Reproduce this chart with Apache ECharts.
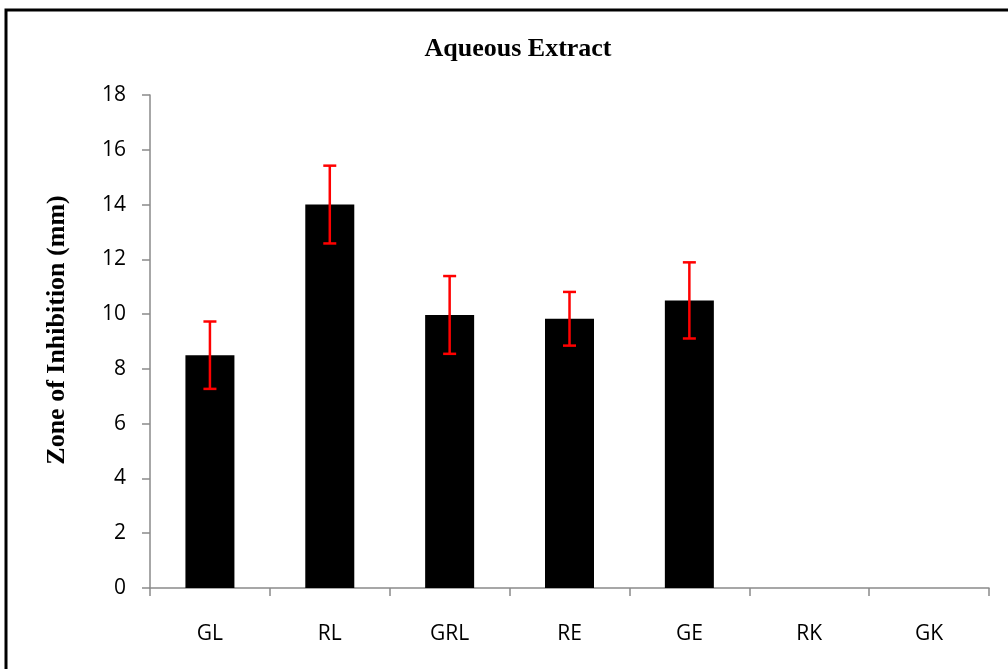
<!DOCTYPE html>
<html>
<head>
<meta charset="utf-8">
<script src="https://cdn.jsdelivr.net/npm/echarts@6/dist/echarts.min.js"></script>
<style>
html,body{margin:0;padding:0;background:#fff;}
#chart{width:1008px;height:669px;}
</style>
</head>
<body>
<div id="chart"></div>
<script>
var categories = ['GL', 'RL', 'GRL', 'RE', 'GE', 'RK', 'GK'];
var means = [8.5, 14.0, 9.97, 9.83, 10.5, 0, 0];
var errors = [1.23, 1.42, 1.42, 0.98, 1.39, null, null];
var yTicks = {min: 0, max: 18, interval: 2};
var titleText = 'Aqueous Extract';
var yTitle = 'Zone of Inhibition (mm)';

var chart = echarts.init(document.getElementById('chart'), null, {renderer: 'canvas'});

var errData = categories.map(function (c, i) {
  return [i, means[i], errors[i]];
}).filter(function (d) { return d[2] != null; });

var axisGray = '#8a8a8a';

var option = {
  animation: false,
  backgroundColor: '#fff',
  graphic: [{
    type: 'rect',
    shape: {x: 6, y: 10, width: 1020, height: 680},
    style: {fill: 'none', stroke: '#000', lineWidth: 3},
    silent: true
  }, {
    type: 'text',
    x: 57, y: 330,
    rotation: Math.PI / 2,
    silent: true,
    style: {
      text: yTitle,
      fontFamily: 'Liberation Serif', fontWeight: 'bold', fontSize: 26, fill: '#000',
      align: 'center', verticalAlign: 'middle'
    }
  }],
  title: {
    text: titleText,
    left: 513,
    textAlign: 'center',
    top: 31,
    textStyle: {fontFamily: 'Liberation Serif', fontWeight: 'bold', fontSize: 26, color: '#000'}
  },
  grid: {left: 150, right: 19, top: 95, bottom: 81, containLabel: false},
  xAxis: {
    type: 'category',
    data: categories,
    boundaryGap: true,
    axisLine: {lineStyle: {color: axisGray, width: 1.5}},
    axisTick: {show: true, length: 8, lineStyle: {color: axisGray, width: 1.5}, alignWithLabel: false},
    axisLabel: {fontFamily: 'Open Sans', fontSize: 21, color: '#000', margin: 36}
  },
  yAxis: {
    type: 'value',
    min: yTicks.min, max: yTicks.max, interval: yTicks.interval,
    splitLine: {show: false},
    axisLine: {show: true, lineStyle: {color: axisGray, width: 1.5}},
    axisTick: {show: true, length: 8, lineStyle: {color: axisGray, width: 1.5}},
    axisLabel: {fontFamily: 'Open Sans', fontSize: 21, color: '#000', margin: 24, padding: [3, 0, 0, 0]}
  },
  series: [{
    type: 'bar',
    data: means,
    barWidth: 49,
    itemStyle: {color: '#000'}
  }, {
    type: 'custom',
    data: errData,
    z: 10,
    renderItem: function (params, api) {
      var i = api.value(0), m = api.value(1), e = api.value(2);
      var top = api.coord([i, m + e]);
      var bot = api.coord([i, m - e]);
      var hw = 6.5;
      var st = {stroke: '#ff0000', lineWidth: 2.5};
      return {
        type: 'group',
        children: [
          {type: 'line', shape: {x1: top[0], y1: top[1], x2: bot[0], y2: bot[1]}, style: st},
          {type: 'line', shape: {x1: top[0] - hw, y1: top[1], x2: top[0] + hw, y2: top[1]}, style: st},
          {type: 'line', shape: {x1: bot[0] - hw, y1: bot[1], x2: bot[0] + hw, y2: bot[1]}, style: st}
        ]
      };
    }
  }]
};
chart.setOption(option);
</script>
</body>
</html>
